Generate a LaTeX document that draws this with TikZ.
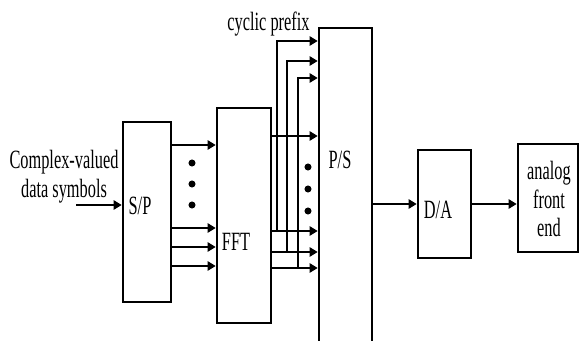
\documentclass[tikz,border=0pt]{standalone}
\usepackage{fontspec}
\setmainfont{Liberation Serif}[FakeStretch=0.62]
\usetikzlibrary{arrows.meta}
\tikzset{
  blk/.style={draw, line width=2.2pt, inner sep=0pt},
  arr/.style={-{Triangle[length=7pt,width=8pt]}, line width=2.2pt},
  dot/.style={circle, fill, inner sep=0pt, minimum size=6pt},
}
\begin{document}
\begin{tikzpicture}[x=0.03cm, y=-0.03cm, font=\fontsize{22.5}{24.5}\selectfont, line join=miter]
	\useasboundingbox (0,0) rectangle (580,341);
	% blocks
	\node[blk, minimum width=1.44cm, minimum height=5.4cm] (sp) at (147,212) {};
	\node[blk, minimum width=1.62cm, minimum height=6.45cm] (fft) at (244,215.5) {};
	\node[blk, minimum width=1.59cm, minimum height=10.56cm] (ps) at (345.5,204) {};
	\node[blk, minimum width=1.59cm, minimum height=3.24cm] (da) at (444.5,204) {};
	\node[blk, minimum width=1.8cm, minimum height=3.24cm] (afe) at (548,198) {};
	% labels
	\node (splbl) at (140,206) {S/P};
	\node (fftlbl) at (236,242) {FFT};
	\node (pslbl) at (340,160) {P/S};
	\node (dalbl) at (438,210) {D/A};
	\node[align=center] (afelbl) at (549,199) {analog\\front\\end};
	\node[align=center] (inlbl) at (64,177) {Complex-valued\\data symbols};
	\node[anchor=base] (cplbl) at (268.5,31) {cyclic prefix};
	% input
	\coordinate (in) at (76,205);
	\draw[arr] (in) -- (sp.west |- in);
	% S/P -> FFT
	\foreach \y in {145,228,247,266}
		\draw[arr] (sp.east |- 0,\y) -- (fft.west |- 0,\y);
	\foreach \y in {163,184,205}
		\node[dot] at (192,\y) {};
	% FFT -> P/S, with cyclic prefix copies
	\draw[arr] (fft.east |- 0,136) -- (ps.west |- 0,136);
	\foreach \y/\x/\t in {231/277/41, 252/287/61, 268/298/78}{
		\draw[arr] (fft.east |- 0,\y) -- (ps.west |- 0,\y);
		\draw[arr] (\x,\y) |- (ps.west |- 0,\t);
	}
	\foreach \y in {167,189,211}
		\node[dot] at (308,\y) {};
	% P/S -> D/A -> front end
	\draw[arr] (ps.east |- da.west) -- (da.west);
	\draw[arr] (da.east) -- (afe.west |- da.east);
\end{tikzpicture}
\end{document}
